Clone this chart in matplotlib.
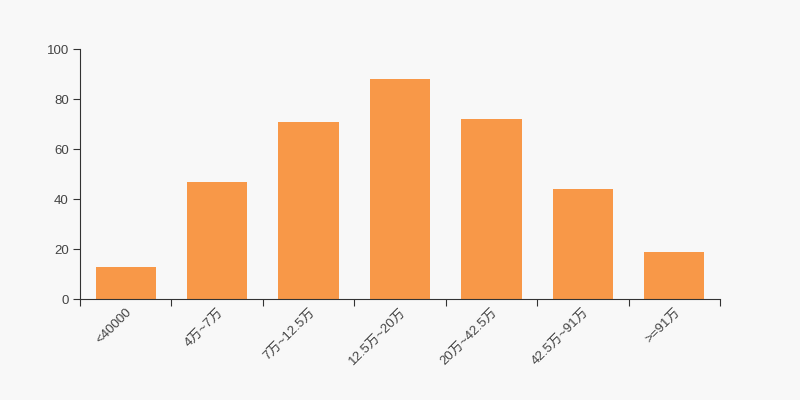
import numpy as np
import matplotlib
matplotlib.use("Agg")
import matplotlib.pyplot as plt

plt.rcParams['font.family'] = ['Liberation Sans', 'Noto Sans CJK SC', 'DejaVu Sans']

categories = ['<40000', '4万~7万', '7万~12.5万', '12.5万~20万', '20万~42.5万', '42.5万~91万', '>=91万']
values = [13, 47, 71, 88, 72, 44, 19]

bg = '#f8f8f8'
fig = plt.figure(figsize=(8, 4), dpi=100, facecolor=bg)
ax = fig.add_axes([0.1, 0.2525, 0.8, 0.625], facecolor=bg)

x = np.arange(len(categories))
ax.bar(x, values, width=0.66, color='#f89848', zorder=2)

ax.set_xlim(-0.5, len(categories) - 0.5)
ax.set_ylim(0, 100)
ax.set_yticks([0, 20, 40, 60, 80, 100])

# category boundary ticks, labels at centres
ax.set_xticks(np.arange(-0.5, len(categories), 1))
ax.set_xticklabels([])
ax.set_xticks(x, minor=True)
ax.set_xticklabels(categories, minor=True, rotation=45, ha='right', va='top',
                   rotation_mode='anchor', fontsize=9.5, color='#444444')
ax.tick_params(axis='x', which='minor', length=0, pad=5)
ax.tick_params(axis='x', which='major', length=5, color='#333333')
ax.tick_params(axis='y', length=5, color='#333333', labelcolor='#444444', labelsize=9.5, pad=3)

for s in ['top', 'right']:
    ax.spines[s].set_visible(False)
for s in ['left', 'bottom']:
    ax.spines[s].set_color('#333333')

fig.savefig('out.png', dpi=100, facecolor=bg)
